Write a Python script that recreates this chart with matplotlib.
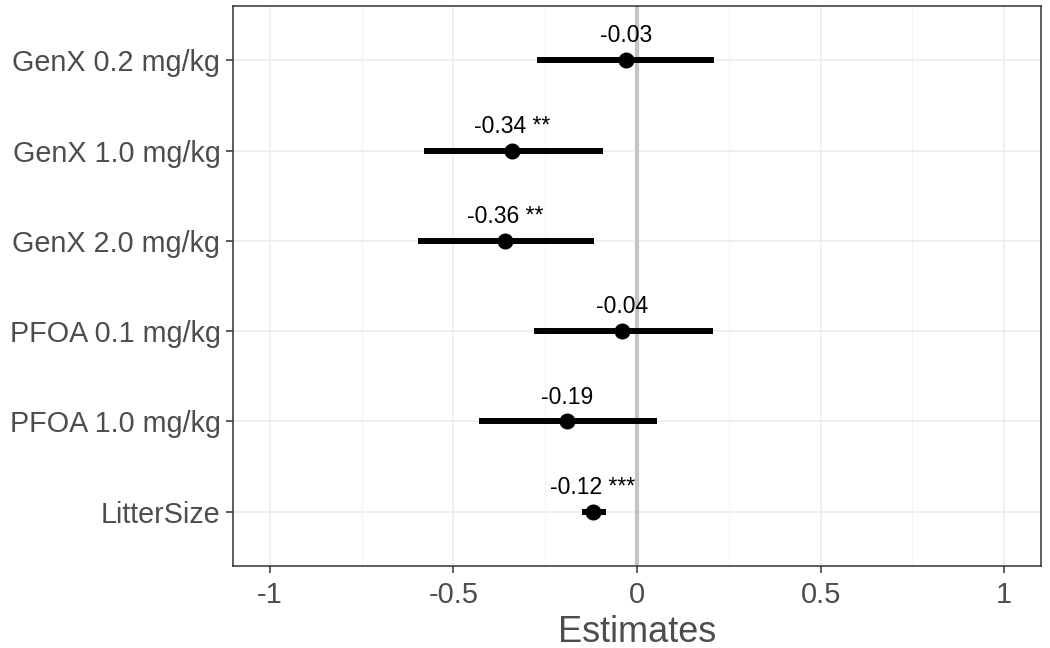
import matplotlib
matplotlib.use('Agg')
import matplotlib.pyplot as plt
from matplotlib.ticker import MultipleLocator

plt.rcParams['font.family'] = ['Liberation Sans', 'DejaVu Sans']

terms = ['GenX 0.2 mg/kg', 'GenX 1.0 mg/kg', 'GenX 2.0 mg/kg',
         'PFOA 0.1 mg/kg', 'PFOA 1.0 mg/kg', 'LitterSize']
estimates = [-0.03, -0.34, -0.36, -0.04, -0.19, -0.12]
ci_low = [-0.273, -0.579, -0.595, -0.281, -0.43, -0.149]
ci_high = [0.211, -0.092, -0.116, 0.208, 0.054, -0.084]
stars = ['', '**', '**', '', '', '***']

fig = plt.figure(figsize=(10.5, 6.48), dpi=100)
ax = fig.add_axes([233 / 1050, 1 - 566 / 648, (1041 - 233) / 1050, (566 - 6) / 648])

ypos = list(range(len(terms), 0, -1))

ax.axvline(0, color='#c4c4c4', lw=3, zorder=1)
for i in range(len(terms)):
    y = ypos[i]
    ax.plot([ci_low[i], ci_high[i]], [y, y], color='black', lw=4.3,
            solid_capstyle='butt', zorder=3)
    ax.plot(estimates[i], y, 'o', color='black', markersize=10.5, zorder=4)
    lab = '%.2f' % estimates[i]
    if stars[i]:
        lab = lab + ' ' + stars[i]
    ax.text(estimates[i], y + 0.27, lab, ha='center', va='center',
            fontsize=16.5, color='black')

ax.set_xlim(-1.1, 1.1)
ax.set_ylim(0.4, len(terms) + 0.6)
ax.set_xticks([-1, -0.5, 0, 0.5, 1])
ax.set_xticklabels(['-1', '-0.5', '0', '0.5', '1'])
ax.xaxis.set_minor_locator(MultipleLocator(0.25))
ax.set_yticks(ypos)
ax.set_yticklabels(terms)

ax.grid(True, which='major', color='#ebebeb', lw=1.1, zorder=0)
ax.grid(True, which='minor', axis='x', color='#f2f2f2', lw=0.6, zorder=0)
ax.set_axisbelow(True)

ax.tick_params(axis='both', which='major', labelcolor='#4d4d4d',
               color='#333333', length=5, width=1.1)
ax.tick_params(axis='x', which='major', labelsize=21, pad=6)
ax.tick_params(axis='y', which='major', labelsize=20.7, pad=4)
ax.tick_params(which='minor', length=0)
for s in ax.spines.values():
    s.set_color('#333333')
    s.set_linewidth(1.1)

ax.set_xlabel('Estimates', fontsize=26, color='#4d4d4d', labelpad=4)

fig.savefig('out.png', dpi=100)
